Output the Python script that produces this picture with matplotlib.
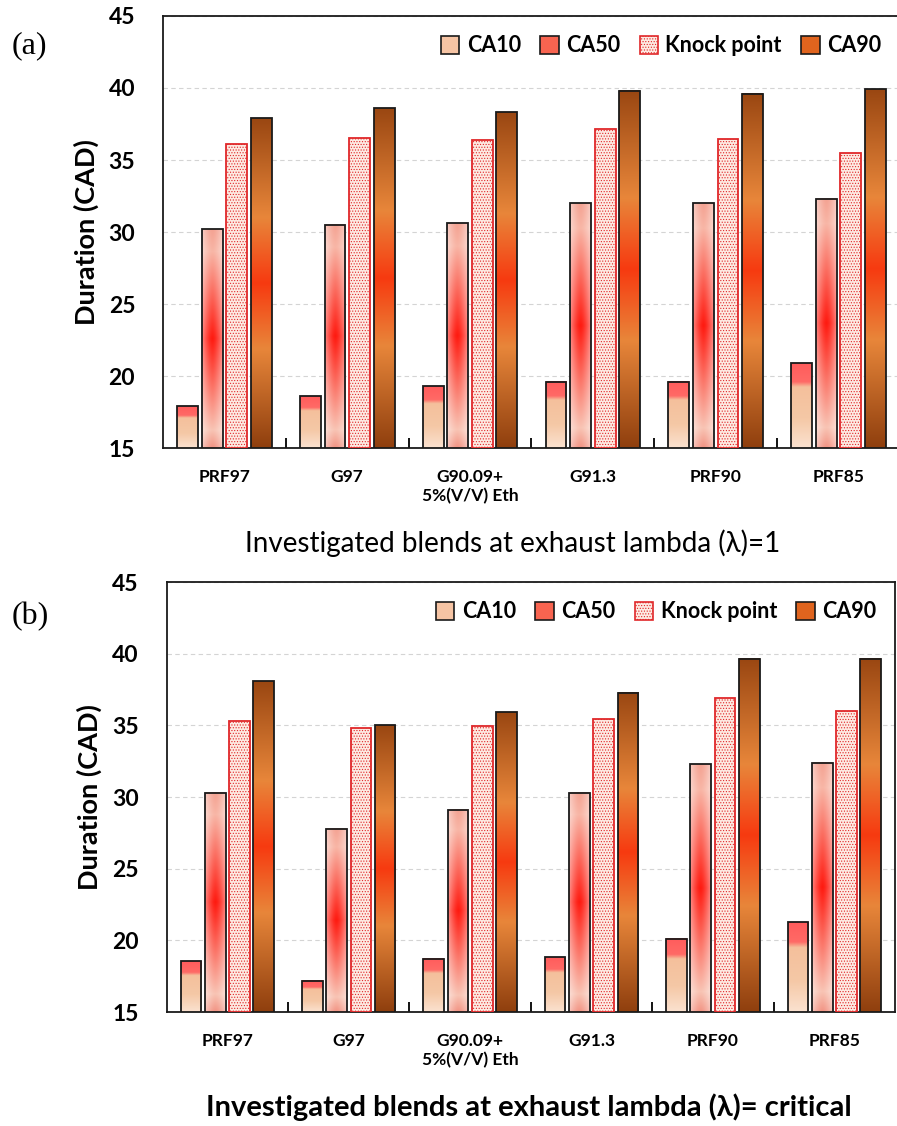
import numpy as np
import matplotlib
matplotlib.use("Agg")
import matplotlib.pyplot as plt
from matplotlib.colors import to_rgb
from matplotlib.patches import Patch

plt.rcParams["font.family"] = ["Lato", "DejaVu Sans"]
plt.rcParams["hatch.linewidth"] = 0.5

BLENDS = ["PRF97", "G97", "G90.09+\n5%(V/V) Eth", "G91.3", "PRF90", "PRF85"]
SERIES = ["CA10", "CA50", "Knock point", "CA90"]

# panel (a): exhaust lambda = 1
CA10_A = [17.9, 18.6, 19.3, 19.6, 19.6, 20.9]
CA50_A = [30.2, 30.5, 30.6, 32.0, 32.0, 32.3]
KNOCK_A = [36.1, 36.5, 36.4, 37.15, 36.45, 35.5]
CA90_A = [37.9, 38.6, 38.3, 39.8, 39.6, 39.9]

# panel (b): exhaust lambda = critical
CA10_B = [18.55, 17.2, 18.7, 18.83, 20.1, 21.27]
CA50_B = [30.3, 27.8, 29.1, 30.3, 32.3, 32.4]
KNOCK_B = [35.3, 34.8, 34.94, 35.45, 36.9, 36.03]
CA90_B = [38.07, 35.0, 35.9, 37.26, 39.63, 39.63]

XLABEL_A = "Investigated blends at exhaust lambda (\u03bb)=1"
XLABEL_B = "Investigated blends at exhaust lambda (\u03bb)= critical"

# vertical gradient stops (position, colour) for each filled series
GRAD_CA10 = [(0.0, "#fbe2d0"), (0.35, "#f5c8a6"), (0.72, "#f4c09c"),
             (0.78, "#ff6a66"), (1.0, "#ff5c5c")]
GRAD_CA50 = [(0.0, "#f29484"), (0.08, "#f8c4b4"), (0.5, "#ff1a10"),
             (0.9, "#f8b6a6"), (1.0, "#f4a292")]
GRAD_CA90 = [(0.0, "#8f3f0e"), (0.3, "#e8863a"), (0.5, "#f73a10"),
             (0.7, "#e8863a"), (1.0, "#9a4712")]


def gradiente(stops, n=200, m=24, brillo_bordes=0.0):
    t = np.linspace(0, 1, n)
    pos = [s[0] for s in stops]
    cols = np.array([to_rgb(s[1]) for s in stops])
    col = np.stack([np.interp(t, pos, cols[:, k]) for k in range(3)], axis=1)
    img = np.repeat(col[:, None, :], m, axis=1)
    if brillo_bordes > 0:
        u = np.abs(np.linspace(-1, 1, m))[None, :, None]
        img = img + (1 - img) * brillo_bordes * u ** 1.5
    return np.clip(img, 0, 1)


def barras_gradiente(ax, x, valores, ancho, img):
    bars = ax.bar(x, np.array(valores) - 15, ancho, bottom=15, facecolor="none",
                  edgecolor="#1a1a1a", linewidth=1.3, zorder=4)
    for r in bars:
        x0, y0, w, h = r.get_x(), r.get_y(), r.get_width(), r.get_height()
        ax.imshow(img, extent=[x0, x0 + w, y0, y0 + h], origin="lower",
                  aspect="auto", interpolation="bilinear", zorder=3)


def panel(ax, ca10, ca50, knock, ca90, xlabel, xlabel_bold, letra, y_letra, x_label):
    x = np.arange(len(BLENDS))
    w = 0.17
    barras_gradiente(ax, x - 0.3, ca10, w, gradiente(GRAD_CA10))
    barras_gradiente(ax, x - 0.1, ca50, w, gradiente(GRAD_CA50, brillo_bordes=0.45))
    ax.bar(x + 0.1, np.array(knock) - 15, w, bottom=15, facecolor="#fdeae2",
           edgecolor="#e0282a", hatch="......", linewidth=1.3, zorder=4)
    barras_gradiente(ax, x + 0.3, ca90, w, gradiente(GRAD_CA90))

    ax.set_xlim(-0.5, len(BLENDS) - 0.5)
    ax.set_ylim(15, 45)
    ticks_y = list(range(15, 46, 5))
    ax.set_yticks(ticks_y, labels=[str(t) for t in ticks_y],
                  fontsize=16.5, fontweight="bold")
    ax.yaxis.grid(True, color="#d4d4d4", linestyle=(0, (4, 3)), linewidth=0.8)
    ax.set_axisbelow(True)
    ax.set_xticks(x, labels=BLENDS, fontsize=12.5, fontweight="bold",
                  linespacing=1.25)
    ax.set_xticks(np.arange(0.5, len(BLENDS) - 1), minor=True)
    ax.tick_params(axis="x", which="major", length=0, pad=15)
    ax.tick_params(axis="x", which="minor", length=7, direction="in", width=1.3)
    ax.tick_params(axis="y", length=0, pad=20)
    for s in ax.spines.values():
        s.set_linewidth(1.3)
        s.set_color("#1a1a1a")
    ax.set_ylabel("Duration (CAD)", fontsize=19.5, fontweight="bold", labelpad=7)
    ax.set_xlabel(xlabel, fontsize=21 if xlabel_bold else 20,
                  fontweight="bold" if xlabel_bold else "normal", labelpad=18)
    ax.xaxis.label.set_x(x_label)

    handles = [
        Patch(facecolor="#f6c4a4", edgecolor="#1a1a1a", linewidth=1.2),
        Patch(facecolor="#f86450", edgecolor="#1a1a1a", linewidth=1.2),
        Patch(facecolor="#fdeae2", edgecolor="#e0282a", hatch="......", linewidth=1.2),
        Patch(facecolor="#e0641e", edgecolor="#1a1a1a", linewidth=1.2),
    ]
    ax.legend(handles, SERIES, loc="upper right", ncol=4, frameon=False,
              prop={"weight": "bold", "size": 15.5}, handlelength=0.85,
              handleheight=0.85, handletextpad=0.35, columnspacing=0.9,
              borderaxespad=0.3, bbox_to_anchor=(0.995, 0.99))
    ax.figure.text(0.013, y_letra, letra, fontsize=23,
                   family=["Liberation Serif"], va="center")


fig = plt.figure(figsize=(8.97, 11.26), dpi=100)
ax_a = fig.add_axes([0.1817, 0.6021, 0.8216, 0.3837])
ax_b = fig.add_axes([0.1858, 0.1012, 0.812, 0.3819])
panel(ax_a, CA10_A, CA50_A, KNOCK_A, CA90_A, XLABEL_A, False, "(a)", 1 - 46 / 1126, 0.475)
panel(ax_b, CA10_B, CA50_B, KNOCK_B, CA90_B, XLABEL_B, True, "(b)", 1 - 617 / 1126, 0.497)
fig.savefig("out.png", dpi=100)
